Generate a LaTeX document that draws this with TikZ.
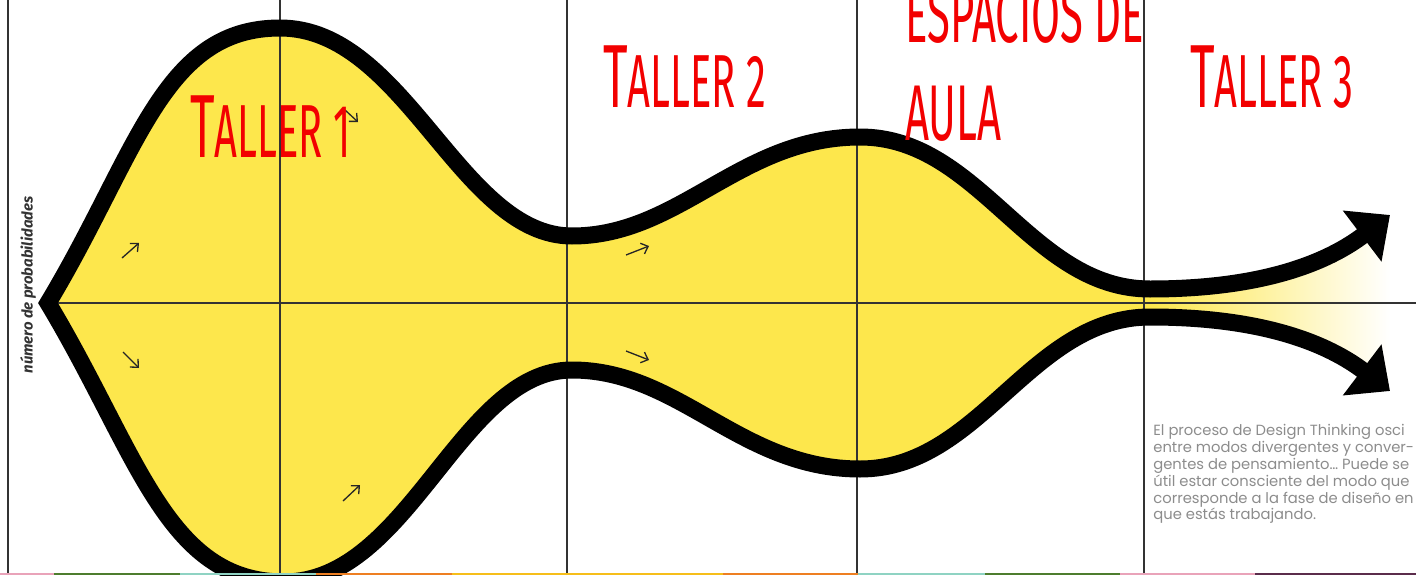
\documentclass[tikz,border=0pt]{standalone}
\usepackage{fontspec}
\usetikzlibrary{arrows.meta}
\newfontfamily\handfont[FakeStretch=0.53]{Fira Sans}
\newfontfamily\labelfont{Fira Sans}
\newfontfamily\notefont{Poppins}
\definecolor{funnel}{HTML}{FDE74C}
\definecolor{tallerred}{HTML}{F20000}
\definecolor{axisgray}{HTML}{333333}
\definecolor{strippink}{HTML}{E9A3B9}
\definecolor{stripgreen}{HTML}{4E7D2E}
\definecolor{stripteal}{HTML}{8FD3C3}
\definecolor{striporange}{HTML}{EE7F22}
\definecolor{stripyellow}{HTML}{F6BE1A}
\definecolor{strippurple}{HTML}{5B2C4B}
\newcommand{\tallerT}{\fontsize{51}{51}\selectfont T\fontsize{42.8}{42.8}\selectfont}

\begin{document}
\begin{tikzpicture}[x=0.02cm, y=0.02cm,
    axisline/.style={axisgray, line width=1.1pt},
    outline/.style={black, line width=0.34cm, line join=miter,
      {Triangle[length=0.7cm, width=1.24cm]}-{Triangle[length=0.7cm, width=1.24cm]}},
    small arrow/.style={black!85, line width=0.75pt, -{Straight Barb[length=3.5pt, width=6.5pt]}},
    taller/.style={text=tallerred, font=\handfont\fontsize{45}{45}\selectfont, inner sep=0pt},
    note/.style={text=black!45, font=\notefont\fontsize{8.4}{9.6}\selectfont, align=left, inner sep=0pt}]
    \useasboundingbox (0,-272) rectangle (1416,303);
    \clip (0,-272) rectangle (1416,303);

    % funnel points (upper and lower)
    \coordinate (tip) at (48,0);
    \coordinate (peakA) at (280,275);
    \coordinate (neckA) at (572,67);
    \coordinate (peakB) at (860,166);
    \coordinate (neckB) at (1150,14);
    \coordinate (headU) at (1390,88);
    \coordinate (troughA) at (284,-279);
    \coordinate (neckAl) at (572,-67);
    \coordinate (troughB) at (860,-166);
    \coordinate (neckBl) at (1150,-14);
    \coordinate (headL) at (1390,-88);

    \fill[funnel] (tip) .. controls +(90,150) and +(-118,0) .. (peakA)
        .. controls +(125,0) and +(-112,0) .. (neckA)
        .. controls +(108,0) and +(-120,0) .. (peakB)
        .. controls +(120,0) and +(-120,0) .. (neckB)
        -- (neckBl)
        .. controls +(-120,0) and +(120,0) .. (troughB)
        .. controls +(-120,0) and +(108,0) .. (neckAl)
        .. controls +(-112,0) and +(125,0) .. (troughA)
        .. controls +(-118,0) and +(90,-150) .. (tip) -- cycle;
    \shade[left color=funnel, right color=white] (neckB) .. controls +(100,0) and +(-70,-53) .. (headU)
        -- (headL) .. controls +(-70,53) and +(100,0) .. (neckBl) -- cycle;

    % grid
    \foreach \x in {8,280,567,857,1144}
        \draw[axisline] (\x,-272) -- (\x,303);
    \draw[axisline] (tip) -- (1416,0);

    \draw[outline] (headL) .. controls +(-70,53) and +(100,0) .. (neckBl)
        .. controls +(-120,0) and +(120,0) .. (troughB)
        .. controls +(-120,0) and +(108,0) .. (neckAl)
        .. controls +(-112,0) and +(125,0) .. (troughA)
        .. controls +(-118,0) and +(90,-150) .. (tip)
        .. controls +(90,150) and +(-118,0) .. (peakA)
        .. controls +(125,0) and +(-112,0) .. (neckA)
        .. controls +(108,0) and +(-120,0) .. (peakB)
        .. controls +(120,0) and +(-120,0) .. (neckB)
        .. controls +(100,0) and +(-70,-53) .. (headU);

    % small direction arrows
    \foreach \xa/\ya/\xb/\yb in {122/45/139/60, 123/-49/139/-65, 345/193/358/181,
        626/48/649/57, 626/-48/649/-57, 343/-198/360/-182}
        \draw[small arrow] (\xa,\ya) -- (\xb,\yb);

    \node[taller, anchor=base west] (taller1) at (190,146) {\tallerT ALLER 1};
    \node[taller, anchor=base west] (taller2) at (603,195) {\tallerT ALLER 2};
    \node[taller, anchor=base west] (taller3) at (1190,195) {\tallerT ALLER 3};
    \node[taller, anchor=base west] (espacios) at (905,260) {ESPACIOS DE};
    \node[taller, anchor=base west] (aula) at (905,163) {AULA};

    \node[rotate=90, text=axisgray, inner sep=0pt,
        font=\labelfont\bfseries\itshape\fontsize{8.5}{10}\selectfont] (ylabel) at (28,18) {número de probabilidades};

    \node[note, anchor=north west] (note) at (1153,-121) {El proceso de Design Thinking osci\\
        entre modos divergentes y conver-\\
        gentes de pensamiento… Puede se\\
        útil estar consciente del modo que\\
        corresponde a la fase de diseño en\\
        que estás trabajando.};

    % colour strip along the bottom
    \foreach \xa/\xb/\c in {0/54/strippink, 54/180/stripgreen, 180/316/stripteal, 316/452/striporange,
        452/723/stripyellow, 723/858/striporange, 858/985/stripteal, 985/1120/stripgreen,
        1120/1255/strippink, 1255/1416/strippurple}
        \fill[\c] (\xa,-272) rectangle (\xb,-270);
\end{tikzpicture}
\end{document}
